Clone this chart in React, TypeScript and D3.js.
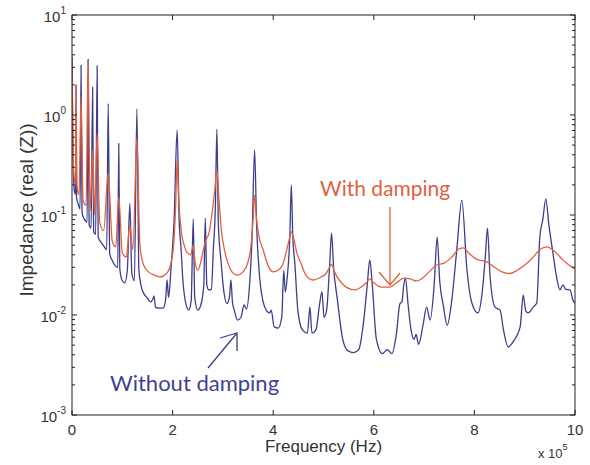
import React from "react";
import * as d3 from "d3";

// Frequency in units of 1e5 Hz, impedance real(Z)
const withoutDamping: [number, number][] = [
  [0.0, 3.8], [0.015, 0.6], [0.03, 0.25], [0.05, 0.17], [0.07, 0.16], [0.08, 2.0], [0.09, 0.15],
  [0.12, 0.13], [0.16, 0.115], [0.18, 3.16], [0.2, 0.105], [0.24, 0.092], [0.3, 0.085], [0.32, 3.6],
  [0.34, 0.08], [0.38, 0.074], [0.41, 1.9], [0.43, 0.068], [0.47, 0.064], [0.5, 3.1], [0.52, 0.06],
  [0.57, 0.054], [0.63, 0.049], [0.69, 0.045], [0.72, 1.3], [0.75, 0.041], [0.8, 0.035], [0.86, 0.031],
  [0.91, 0.03], [0.93, 0.52], [0.95, 0.029], [1.0, 0.022], [1.05, 0.021], [1.1, 0.028], [1.15, 0.13],
  [1.19, 0.026], [1.24, 0.022], [1.29, 1.15], [1.33, 0.028], [1.38, 0.019], [1.44, 0.016], [1.5, 0.0148],
  [1.56, 0.0135], [1.61, 0.0145], [1.63, 0.0155], [1.66, 0.012], [1.73, 0.0117], [1.81, 0.0117],
  [1.86, 0.014], [1.89, 0.0224], [1.92, 0.015], [1.97, 0.03], [2.03, 0.09], [2.09, 0.71], [2.13, 0.09],
  [2.17, 0.045], [2.2, 0.024], [2.25, 0.014], [2.32, 0.0112], [2.37, 0.014], [2.41, 0.091], [2.44, 0.015],
  [2.5, 0.0112], [2.56, 0.0125], [2.62, 0.02], [2.65, 0.093], [2.68, 0.02], [2.72, 0.0178], [2.77, 0.018],
  [2.81, 0.045], [2.85, 0.12], [2.88, 0.72], [2.91, 0.08], [2.96, 0.036], [3.02, 0.017], [3.08, 0.013],
  [3.13, 0.015], [3.16, 0.0224], [3.19, 0.0135], [3.23, 0.011], [3.29, 0.0089], [3.36, 0.0095],
  [3.42, 0.0126], [3.47, 0.0115], [3.53, 0.02], [3.58, 0.06], [3.63, 0.45], [3.67, 0.08], [3.73, 0.024],
  [3.8, 0.0135], [3.87, 0.011], [3.93, 0.0105], [3.96, 0.0112], [4.02, 0.0076], [4.1, 0.0074],
  [4.17, 0.0095], [4.21, 0.028], [4.24, 0.017], [4.28, 0.024], [4.33, 0.06], [4.36, 0.2], [4.39, 0.06],
  [4.43, 0.033], [4.49, 0.0112], [4.58, 0.0071], [4.68, 0.0066], [4.73, 0.012], [4.77, 0.0066],
  [4.85, 0.0071], [4.92, 0.0126], [4.97, 0.017], [5.01, 0.0095], [5.06, 0.011], [5.12, 0.03],
  [5.16, 0.066], [5.2, 0.03], [5.27, 0.0151], [5.38, 0.0058], [5.48, 0.0044], [5.6, 0.0042],
  [5.7, 0.0045], [5.79, 0.008], [5.87, 0.02], [5.92, 0.0355], [5.97, 0.02], [6.05, 0.0058],
  [6.17, 0.0041], [6.27, 0.0045], [6.36, 0.0041], [6.45, 0.0065], [6.52, 0.013], [6.56, 0.0135],
  [6.59, 0.019], [6.63, 0.0234], [6.68, 0.013], [6.74, 0.0071], [6.8, 0.0057], [6.84, 0.0064],
  [6.89, 0.0051], [6.98, 0.008], [7.05, 0.012], [7.12, 0.0089], [7.2, 0.02], [7.26, 0.06], [7.31, 0.022],
  [7.38, 0.0126], [7.46, 0.0079], [7.55, 0.014], [7.65, 0.045], [7.75, 0.141], [7.85, 0.029],
  [7.95, 0.0132], [8.07, 0.0105], [8.15, 0.016], [8.22, 0.04], [8.26, 0.074], [8.31, 0.025],
  [8.41, 0.012], [8.51, 0.0112], [8.58, 0.007], [8.67, 0.0048], [8.78, 0.0055], [8.91, 0.0076],
  [8.97, 0.0158], [9.02, 0.011], [9.07, 0.0105], [9.17, 0.012], [9.24, 0.0132], [9.3, 0.06], [9.36, 0.09],
  [9.42, 0.145], [9.48, 0.08], [9.56, 0.042], [9.64, 0.023], [9.7, 0.0178], [9.76, 0.02], [9.82, 0.018],
  [9.9, 0.0178], [9.96, 0.014], [10.0, 0.0132],
];

const withDamping: [number, number][] = [
  [0.0, 3.8], [0.015, 0.8], [0.03, 0.3], [0.05, 0.22], [0.07, 0.2], [0.08, 2.0], [0.1, 0.19],
  [0.14, 0.16], [0.18, 1.5], [0.22, 0.14], [0.28, 0.125], [0.32, 3.5], [0.36, 0.11], [0.41, 0.45],
  [0.45, 0.1], [0.5, 0.66], [0.55, 0.085], [0.63, 0.07], [0.72, 0.26], [0.8, 0.055], [0.87, 0.048],
  [0.93, 0.15], [1.0, 0.042], [1.08, 0.038], [1.15, 0.079], [1.21, 0.045], [1.29, 0.6], [1.35, 0.05],
  [1.42, 0.032], [1.52, 0.027], [1.64, 0.025], [1.75, 0.024], [1.88, 0.026], [1.96, 0.032], [2.02, 0.05],
  [2.06, 0.12], [2.09, 0.355], [2.12, 0.15], [2.17, 0.07], [2.23, 0.05], [2.29, 0.042], [2.36, 0.04],
  [2.41, 0.05], [2.45, 0.033], [2.5, 0.028], [2.56, 0.034], [2.6, 0.042], [2.66, 0.056], [2.72, 0.065],
  [2.78, 0.1], [2.84, 0.18], [2.88, 0.28], [2.92, 0.15], [2.97, 0.07], [3.03, 0.045], [3.1, 0.033],
  [3.18, 0.027], [3.28, 0.025], [3.4, 0.027], [3.5, 0.034], [3.56, 0.05], [3.6, 0.09], [3.63, 0.158],
  [3.66, 0.1], [3.72, 0.06], [3.8, 0.045], [3.9, 0.031], [4.0, 0.027], [4.1, 0.028], [4.19, 0.032],
  [4.27, 0.045], [4.33, 0.06], [4.36, 0.068], [4.4, 0.06], [4.47, 0.042], [4.55, 0.033], [4.65, 0.025],
  [4.79, 0.0224], [4.95, 0.024], [5.05, 0.026], [5.12, 0.03], [5.16, 0.032], [5.22, 0.027], [5.3, 0.0228],
  [5.45, 0.019], [5.63, 0.0178], [5.75, 0.019], [5.85, 0.021], [5.92, 0.023], [6.0, 0.021], [6.15, 0.019],
  [6.32, 0.019], [6.45, 0.021], [6.6, 0.0234], [6.72, 0.023], [6.85, 0.0219], [6.95, 0.023], [7.1, 0.027],
  [7.25, 0.0316], [7.4, 0.033], [7.55, 0.038], [7.7, 0.046], [7.78, 0.047], [7.9, 0.041], [8.05, 0.036],
  [8.25, 0.034], [8.4, 0.03], [8.55, 0.027], [8.7, 0.026], [8.85, 0.028], [9.0, 0.0316], [9.15, 0.037],
  [9.3, 0.045], [9.44, 0.048], [9.6, 0.043], [9.75, 0.036], [9.9, 0.031], [10.0, 0.029],
];

const xTickValues = [0, 2, 4, 6, 8, 10];
const yDecades = [-3, -2, -1, 0, 1];
const xTitle = "Frequency (Hz)";
const yTitle = "Impedance (real (Z))";
const labelWith = "With damping";
const labelWithout = "Without damping";

const W = 590;
const H = 465;
const M = { left: 72, right: 575, top: 15, bottom: 415 };
const BLUE = "#3d3d8e";
const RED = "#e2603f";
const FONT = "'Liberation Sans', Arial, sans-serif";

export default function App() {
  const x = d3.scaleLinear().domain([0, 10]).range([M.left, M.right]);
  const y = d3.scaleLog().domain([1e-3, 10]).range([M.bottom, M.top]);
  const line = d3
    .line<[number, number]>()
    .x((d) => x(d[0]))
    .y((d) => y(d[1]))
    .curve(d3.curveMonotoneX);

  const yMinor: number[] = [];
  for (let e = -3; e < 1; e++) {
    for (let k = 2; k <= 9; k++) yMinor.push(k * Math.pow(10, e));
  }

  return (
    <svg
      width={W}
      height={H}
      style={{ position: "absolute", left: 0, top: 0, background: "#fff" }}
      fontFamily={FONT}
    >
      <rect x={0} y={0} width={W} height={H} fill="#fff" />
      <defs>
        <clipPath id="plot">
          <rect x={M.left} y={M.top} width={M.right - M.left} height={M.bottom - M.top} />
        </clipPath>
      </defs>
      <g clipPath="url(#plot)">
        <path d={line(withoutDamping) || ""} fill="none" stroke={BLUE} strokeWidth={1.3} strokeLinejoin="round" />
        <path d={line(withDamping) || ""} fill="none" stroke={RED} strokeWidth={1.3} strokeLinejoin="round" />
      </g>
      {/* frame */}
      <rect
        x={M.left}
        y={M.top}
        width={M.right - M.left}
        height={M.bottom - M.top}
        fill="none"
        stroke="#222"
        strokeWidth={1}
      />
      {/* x ticks */}
      {xTickValues.map((v) => (
        <g key={"xt" + v}>
          <line x1={x(v)} x2={x(v)} y1={M.bottom} y2={M.bottom - 5} stroke="#222" />
          <line x1={x(v)} x2={x(v)} y1={M.top} y2={M.top + 5} stroke="#222" />
          <text x={x(v)} y={M.bottom + 20} fontSize={15} textAnchor="middle" fill="#333">
            {v}
          </text>
        </g>
      ))}
      {/* y ticks */}
      {yDecades.map((e) => {
        const yy = y(Math.pow(10, e));
        return (
          <g key={"yt" + e}>
            <line x1={M.left} x2={M.left + 5} y1={yy} y2={yy} stroke="#222" />
            <line x1={M.right} x2={M.right - 5} y1={yy} y2={yy} stroke="#222" />
            <text x={66} y={yy + 7} fontSize={15} textAnchor="end" fill="#333">
              10
              <tspan fontSize={10} dy={-8}>
                {e < 0 ? "-" + Math.abs(e) : String(e)}
              </tspan>
            </text>
          </g>
        );
      })}
      {yMinor.map((v, i) => (
        <g key={"ym" + i}>
          <line x1={M.left} x2={M.left + 3} y1={y(v)} y2={y(v)} stroke="#222" />
          <line x1={M.right} x2={M.right - 3} y1={y(v)} y2={y(v)} stroke="#222" />
        </g>
      ))}
      {/* axis titles */}
      <text x={(M.left + M.right) / 2} y={452} fontSize={17} textAnchor="middle" fill="#333">
        {xTitle}
      </text>
      <text transform="translate(33,210) rotate(-90)" fontSize={19} textAnchor="middle" fill="#333">
        {yTitle}
      </text>
      <text x={538} y={458} fontSize={13} fill="#333">
        x 10
        <tspan fontSize={9} dy={-8}>
          5
        </tspan>
      </text>
      {/* annotations */}
      <text x={320} y={196} fontSize={21} fontFamily="Lato, 'Open Sans', sans-serif" fill={RED}>
        {labelWith}
      </text>
      <line x1={390} y1={207} x2={390} y2={285} stroke={RED} strokeWidth={1.3} />
      <polyline points="379,272 390,285 400,273" fill="none" stroke={RED} strokeWidth={1.3} />
      <text x={110} y={391} fontSize={22} fontFamily="Lato, 'Open Sans', sans-serif" fill="#3f3f98">
        {labelWithout}
      </text>
      <line x1={208} y1={368} x2={237} y2={333} stroke={BLUE} strokeWidth={1.3} />
      <polyline points="220,338 237,333 237,351" fill="none" stroke={BLUE} strokeWidth={1.3} />
    </svg>
  );
}
